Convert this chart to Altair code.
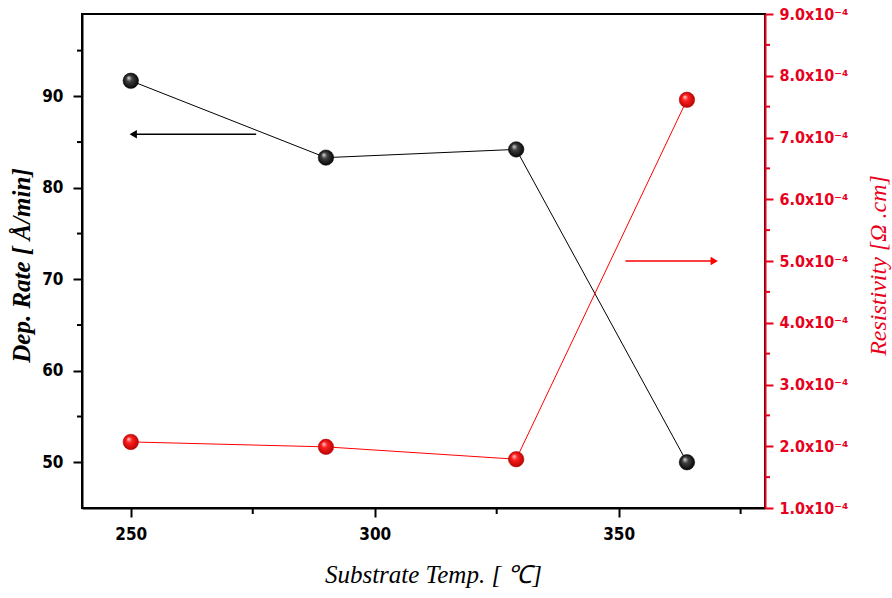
import altair as alt
import pandas as pd

temps = [250, 290, 329, 364]
dep_rate = [91.7, 83.3, 84.2, 50.0]
resistivity = [2.07e-4, 1.99e-4, 1.79e-4, 7.61e-4]

x_minor = [275, 325, 375]
y_minor = [55, 65, 75, 85, 95]
r_minor = [1.5e-4, 2.5e-4, 3.5e-4, 4.5e-4, 5.5e-4, 6.5e-4, 7.5e-4, 8.5e-4]

black_arrow_x = [250.5, 275.7]
black_arrow_y = [85.85, 85.85]
red_arrow_x = [351.4, 369.6]
red_arrow_y = [5.0e-4, 5.0e-4]

df = pd.DataFrame({"t": temps, "d": dep_rate, "r": resistivity})
ba = pd.DataFrame({"x": black_arrow_x, "y": black_arrow_y})
ra = pd.DataFrame({"x": red_arrow_x, "y": red_arrow_y})
xm = pd.DataFrame({"x": x_minor})
ym = pd.DataFrame({"y": y_minor})
rm = pd.DataFrame({"y": r_minor})

LABEL_FONT = "DejaVu Sans Condensed"
TITLE_FONT = "Liberation Serif"

xscale = alt.Scale(domain=[240, 380], nice=False, zero=False)
yscale = alt.Scale(domain=[45, 99], nice=False, zero=False)
rscale = alt.Scale(domain=[1e-4, 9e-4], nice=False, zero=False)

xaxis = alt.Axis(values=[250, 300, 350], title="Substrate Temp. [ ℃]", grid=False,
                 domainColor="black", domainWidth=2, tickColor="black", tickWidth=2, tickSize=9,
                 labelFont=LABEL_FONT, labelFontWeight="bold", labelFontSize=17, labelColor="black",
                 labelPadding=9, titleFont=TITLE_FONT, titleFontStyle="italic", titleFontWeight="normal",
                 titleFontSize=25, titleColor="black", titleX=351, titleY=66,
                 titleAlign="center", titleBaseline="middle")
yaxis = alt.Axis(values=[50, 60, 70, 80, 90], title="Dep. Rate [ Å/min]", grid=False, orient="left",
                 domainColor="black", domainWidth=2, tickColor="black", tickWidth=2, tickSize=9,
                 labelFont=LABEL_FONT, labelFontWeight="bold", labelFontSize=17, labelColor="black",
                 labelPadding=10, titleFont=TITLE_FONT, titleFontStyle="italic", titleFontWeight="bold",
                 titleFontSize=25, titleColor="black", titleX=-61, titleY=251,
                 titleAlign="center", titleBaseline="middle", titleAngle=270)
raxis = alt.Axis(values=[1e-4, 2e-4, 3e-4, 4e-4, 5e-4, 6e-4, 7e-4, 8e-4, 9e-4],
                 title="Resistivity [Ω .cm]", grid=False, orient="right",
                 labelExpr="format(datum.value*1e4, '.1f') + 'x10⁻⁴'",
                 domainColor="#e8001c", domainWidth=2, tickColor="#e8001c", tickWidth=2, tickSize=8,
                 labelFont=LABEL_FONT, labelFontWeight="bold", labelFontSize=16, labelColor="#e8001c",
                 labelPadding=6, titleFont=TITLE_FONT, titleFontStyle="italic", titleFontWeight="normal",
                 titleFontSize=24, titleColor="#e8001c", titleX=113, titleY=251,
                 titleAlign="center", titleBaseline="middle", titleAngle=270)

black_grad = alt.RadialGradient(gradient="radial",
    stops=[alt.GradientStop(offset=0, color="#e0e0e0"),
           alt.GradientStop(offset=0.35, color="#404040"),
           alt.GradientStop(offset=1, color="#000000")],
    x1=0.35, y1=0.3, r1=0, x2=0.5, y2=0.5, r2=0.55)
red_grad = alt.RadialGradient(gradient="radial",
    stops=[alt.GradientStop(offset=0, color="#ffd0d0"),
           alt.GradientStop(offset=0.35, color="#ff2020"),
           alt.GradientStop(offset=1, color="#b00000")],
    x1=0.35, y1=0.3, r1=0, x2=0.5, y2=0.5, r2=0.55)

X = lambda f: alt.X(f, scale=xscale, axis=xaxis)
YL = lambda f: alt.Y(f, scale=yscale, axis=yaxis)
YR = lambda f: alt.Y(f, scale=rscale, axis=raxis)

base = alt.Chart(df)
black_line = base.mark_line(color="black", strokeWidth=1).encode(x=X("t:Q"), y=YL("d:Q"))
black_pts = base.mark_circle(size=240, opacity=1, fill=black_grad, stroke="#000000", strokeWidth=0.5).encode(
    x=X("t:Q"), y=YL("d:Q"))
black_arrow_line = alt.Chart(ba).mark_line(color="black", strokeWidth=1.5).encode(x=X("x:Q"), y=YL("y:Q"))
black_arrow_head = alt.Chart(ba.iloc[[0]]).mark_point(shape="triangle-left", filled=True, color="black", size=70, opacity=1).encode(
    x=X("x:Q"), y=YL("y:Q"))
x_minor_ticks = alt.Chart(xm).mark_rule(color="black", strokeWidth=2).encode(
    x=X("x:Q"), y=alt.value(494), y2=alt.value(500))
y_minor_ticks = alt.Chart(ym).mark_rule(color="black", strokeWidth=2).encode(
    y=YL("y:Q"), x=alt.value(0), x2=alt.value(-5))

left = alt.layer(black_line, black_arrow_line, black_arrow_head, x_minor_ticks, y_minor_ticks, black_pts)

red_line = base.mark_line(color="#ff0000", strokeWidth=1).encode(x=X("t:Q"), y=YR("r:Q"))
red_pts = base.mark_circle(size=240, opacity=1, fill=red_grad, stroke="#b00000", strokeWidth=0.5).encode(
    x=X("t:Q"), y=YR("r:Q"))
red_arrow_line = alt.Chart(ra).mark_line(color="#ff0000", strokeWidth=1.5).encode(x=X("x:Q"), y=YR("y:Q"))
red_arrow_head = alt.Chart(ra.iloc[[1]]).mark_point(shape="triangle-right", filled=True, color="#ff0000", size=70, opacity=1).encode(
    x=X("x:Q"), y=YR("y:Q"))
r_minor_ticks = alt.Chart(rm).mark_rule(color="#e8001c", strokeWidth=2).encode(
    y=YR("y:Q"), x=alt.value(683), x2=alt.value(688))

right = alt.layer(red_line, red_arrow_line, red_arrow_head, r_minor_ticks, red_pts)

chart = alt.layer(left, right).resolve_scale(y="independent").properties(
    width=683, height=494,
    autosize=alt.AutoSizeParams(type="none"),
    padding={"left": 82, "top": 14, "right": 127, "bottom": 90},
    background="white",
).configure_view(stroke="black", strokeWidth=2)

chart.save("out.html", embed_options={"renderer": "svg", "actions": False})
